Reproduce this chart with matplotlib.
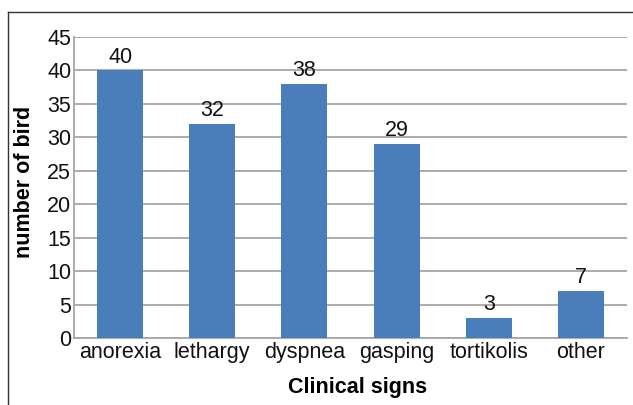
import matplotlib
matplotlib.use("Agg")
import matplotlib.pyplot as plt
from matplotlib.lines import Line2D

categories = ["anorexia", "lethargy", "dyspnea", "gasping", "tortikolis", "other"]
values = [40, 32, 38, 29, 3, 7]
yticks = [0, 5, 10, 15, 20, 25, 30, 35, 40, 45]

plt.rcParams['font.family'] = ['Liberation Sans', 'DejaVu Sans']
FS = 15.5

fig = plt.figure(figsize=(6.33, 4.05), dpi=100)
ax = fig.add_axes([74/633, 1-338/405, (627-74)/633, (338-37)/405])

x = range(len(categories))
bars = ax.bar(x, values, width=0.5, color="#4a7ebb", zorder=3)
ax.set_xlim(-0.5, len(categories)-0.5)
ax.set_ylim(0, 45)
ax.set_yticks(yticks)
ax.set_xticks(list(x))
ax.set_xticklabels(categories)
ax.tick_params(axis='both', length=0, labelsize=FS, colors='#111111')
ax.tick_params(axis='y', pad=2)
ax.tick_params(axis='x', pad=3)
ax.grid(axis='y', color='#a6a6a6', linewidth=1.3, zorder=0)
for s in ['top', 'right']:
    ax.spines[s].set_visible(False)
for s in ['left', 'bottom']:
    ax.spines[s].set_color('#a6a6a6')
    ax.spines[s].set_linewidth(1.3)

for xi, v in zip(x, values):
    ax.annotate(str(v), (xi, v), xytext=(0, 2), textcoords='offset points',
                ha='center', va='bottom', fontsize=FS, color='#111111')

fig.text(25/633, 1-182/405, "number of bird", ha='center', va='center', rotation=90,
         fontsize=FS, fontweight='bold')
fig.text(358/633, 1-388/405, "Clinical signs", ha='center', va='center',
         fontsize=FS, fontweight='bold')

fig.add_artist(Line2D([8/633, 8/633], [0, 1-12/405], transform=fig.transFigure, color='#333333', linewidth=1))
fig.add_artist(Line2D([8/633, 1], [1-12/405, 1-12/405], transform=fig.transFigure, color='#333333', linewidth=1))

fig.savefig("out.png", dpi=100)
